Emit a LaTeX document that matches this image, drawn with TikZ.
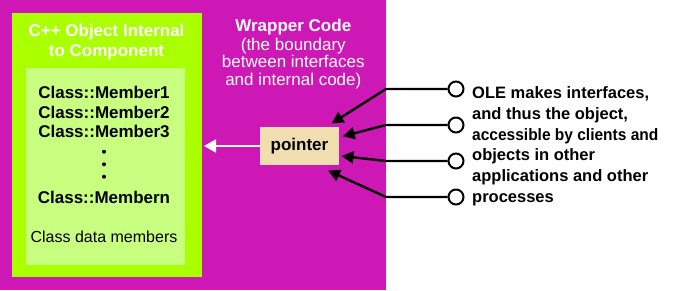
\documentclass[tikz,border=0pt]{standalone}
\usepackage{fontspec}
\usepackage{graphicx}
\setmainfont{Liberation Sans}
\usetikzlibrary{arrows.meta}
\definecolor{wrapmag}{RGB}{206,24,182}
\definecolor{objgreen}{RGB}{170,255,0}
\definecolor{memgreen}{RGB}{200,255,128}
\definecolor{ptrwheat}{RGB}{240,222,176}
\tikzset{
  boldtxt/.style={font=\fontsize{17}{20}\selectfont\bfseries, inner sep=0pt, anchor=base},
  regtxt/.style={font=\fontsize{16}{19}\selectfont, inner sep=0pt, anchor=base},
  righttxt/.style={font=\fontsize{16.5}{20}\selectfont\bfseries, inner sep=0pt, anchor=base west},
  port/.style={circle, draw=black, line width=2pt, fill=white, minimum size=15pt, inner sep=0pt},
  blackarrow/.style={line width=2.4pt, -{Triangle[length=12pt,width=12pt]}},
  dotmark/.style={circle, fill=black, inner sep=0pt, minimum size=4pt}
}
\begin{document}
\begin{tikzpicture}[x=1pt,y=-1pt]
\useasboundingbox (0,0) rectangle (673,290);
\fill[white] (0,0) rectangle (673,290);
\fill[wrapmag] (0,0) rectangle (386,290);
\fill[objgreen] (12,13) rectangle (202,277);
\fill[memgreen] (26,68) rectangle (185,265);
% title
\node[boldtxt, text=white] (t1) at (106.5,36.7) {C++ Object Internal};
\node[boldtxt, text=white] (t2) at (106.5,56.7) {to Component};
% members
\node[boldtxt] (m1) at (104,98.5) {Class::Member1};
\node[boldtxt] (m2) at (104,118.2) {Class::Member2};
\node[boldtxt] (m3) at (104,137.7) {Class::Member3};
\node[dotmark] (d1) at (104,151.7) {};
\node[dotmark] (d2) at (104,164.3) {};
\node[dotmark] (d3) at (104,176.7) {};
\node[boldtxt] (mn) at (104,203.3) {Class::Membern};
\node[regtxt] (cdm) at (104,242.7) {Class data members};
% wrapper text
\node[boldtxt, text=white] (w1) at (293.3,31.7) {Wrapper Code};
\node[regtxt, text=white, font=\fontsize{17}{19}\selectfont] (w2) at (293.3,50.3) {(the boundary};
\node[regtxt, text=white, font=\fontsize{17}{19}\selectfont] (w3) at (293.3,67.8) {between interfaces};
\node[regtxt, text=white, font=\fontsize{17}{19}\selectfont] (w4) at (293.3,85.5) {and internal code)};
% pointer
\node[fill=ptrwheat, minimum width=79pt, minimum height=38pt, inner sep=0pt,
      font=\fontsize{17}{20}\selectfont\bfseries] (ptr) at (299.5,146) {pointer};
\coordinate (objedge) at (204,146);
\draw[white, line width=2pt, -{Triangle[length=12pt,width=13pt]}] (ptr.west) -- (objedge);
% ports
\node[port] (c1) at (456,89) {};
\node[port] (c2) at (456,125) {};
\node[port] (c3) at (456,161) {};
\node[port] (c4) at (456,197) {};
\coordinate (b1) at (386,89);
\coordinate (b2) at (386,125);
\coordinate (b3) at (386,161);
\coordinate (b4) at (386,197);
\coordinate (a1) at (331.5,123.5);
\coordinate (a2) at (342.7,136.3);
\coordinate (a3) at (341.5,156);
\coordinate (a4) at (328,170.5);
\draw[blackarrow] (c1.west) -- (b1) -- (a1);
\draw[blackarrow] (c2.west) -- (b2) -- (a2);
\draw[blackarrow] (c3.west) -- (b3) -- (a3);
\draw[blackarrow] (c4.west) -- (b4) -- (a4);
% right text
\node[righttxt] (r1) at (472,98.5) {OLE makes interfaces,};
\node[righttxt] (r2) at (472,119.3) {and thus the object,};
\node[righttxt] (r3) at (472,140.1) {\scalebox{0.94}[1]{accessible by clients and}};
\node[righttxt] (r4) at (472,160.9) {objects in other};
\node[righttxt] (r5) at (472,181.7) {applications and other};
\node[righttxt] (r6) at (472,202.5) {processes};
\end{tikzpicture}
\end{document}
